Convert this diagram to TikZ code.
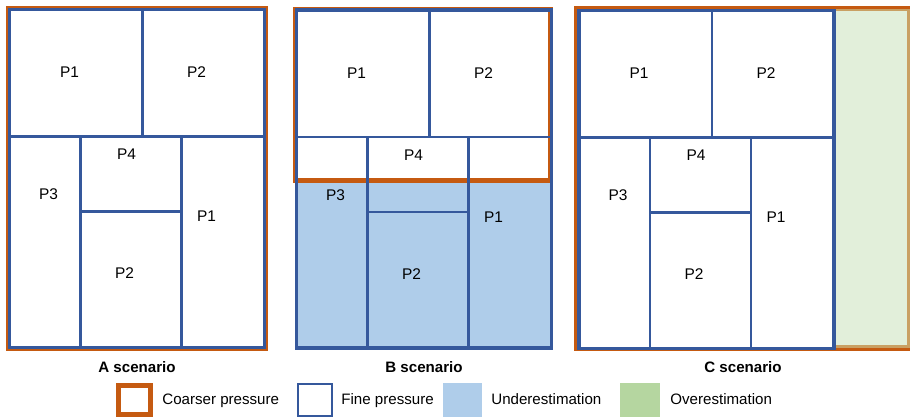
\documentclass[tikz,border=0pt]{standalone}
\usepackage{fontspec}
\setmainfont{Liberation Sans}
\definecolor{coarseorange}{HTML}{C55A11}
\definecolor{fineblue}{HTML}{35589C}
\definecolor{underblue}{HTML}{AFCDEA}
\definecolor{overgreen}{HTML}{E2EFDA}
\definecolor{keygreen}{HTML}{B5D6A0}
\definecolor{overtan}{HTML}{C9A063}

\begin{document}
\begin{tikzpicture}[x=0.02cm,y=-0.02cm,
fine/.style={draw=fineblue,line width=1.3pt},
coarse/.style={draw=coarseorange,line width=2.8pt},
plabel/.style={font=\fontsize{8.8}{10}\selectfont,inner sep=0pt},
scen/.style={font=\fontsize{8.6}{10}\selectfont\bfseries,inner sep=0pt},
legtext/.style={font=\fontsize{8.6}{10}\selectfont,anchor=base west,inner sep=0pt},
partition/.pic={%
\draw[fine,line width=1.8pt] (0,0) rectangle (255,338);
\draw[fine] (0,127) -- (255,127) (133,0) -- (133,127)
 (71,127) -- (71,338) (172,127) -- (172,338) (71,202) -- (172,202);
\node[plabel] (-p1) at (60,63) {P1};
\node[plabel] (-p2) at (187,63) {P2};
\node[plabel] (-p4) at (117,145) {P4};
\node[plabel] (-p3) at (39,185) {P3};
\node[plabel] (-p1b) at (197,207) {P1};
\node[plabel] (-p2b) at (115,264) {P2};}]

 \useasboundingbox (0,0) rectangle (910,418);

 % A scenario
 \draw[coarse,line width=3.4pt] (8.5,8.5) rectangle (265.5,348.5);
 \pic (A) at (9.5,9.5) {partition};
 \node[scen] (capA) at (137,367) {A scenario};

 % B scenario
 \fill[underblue] (296.5,10) rectangle (551.5,348);
 \fill[white] (296.5,10) rectangle (550.5,180.5);
 \draw[coarse] (295,9) rectangle (550.5,180.5);
 \pic (B) at (296.5,10) {partition};
 \node[scen] (capB) at (424,367) {B scenario};

 % C scenario
 \fill[overgreen] (834,8) rectangle (910,348);
 \draw[overtan,line width=2.2pt] (834,9.5) -| (908.5,346.5) -- (834,346.5);
 \draw[coarse,line width=2pt] (576,7.5) rectangle (916,349.5);
 \pic (C) at (579,10.5) {partition};
 \node[scen] (capC) at (743,367) {C scenario};

 % legend
 \node[coarse,line width=2.8pt,minimum width=0.64cm,minimum height=0.58cm,inner sep=0pt] (keyA) at (134.5,400) {};
 \node[legtext] (txtA) at (162,404.5) {Coarser pressure};
 \node[fine,line width=1.4pt,minimum width=0.67cm,minimum height=0.63cm,inner sep=0pt] (keyB) at (315,400) {};
 \node[legtext] (txtB) at (341,404.5) {Fine pressure};
 \node[fill=underblue,minimum width=0.78cm,minimum height=0.68cm,inner sep=0pt] (keyC) at (462.5,400) {};
 \node[legtext] (txtC) at (491,404.5) {Underestimation};
 \node[fill=keygreen,minimum width=0.8cm,minimum height=0.68cm,inner sep=0pt] (keyD) at (640,400) {};
 \node[legtext] (txtD) at (670,404.5) {Overestimation};
\end{tikzpicture}
\end{document}
